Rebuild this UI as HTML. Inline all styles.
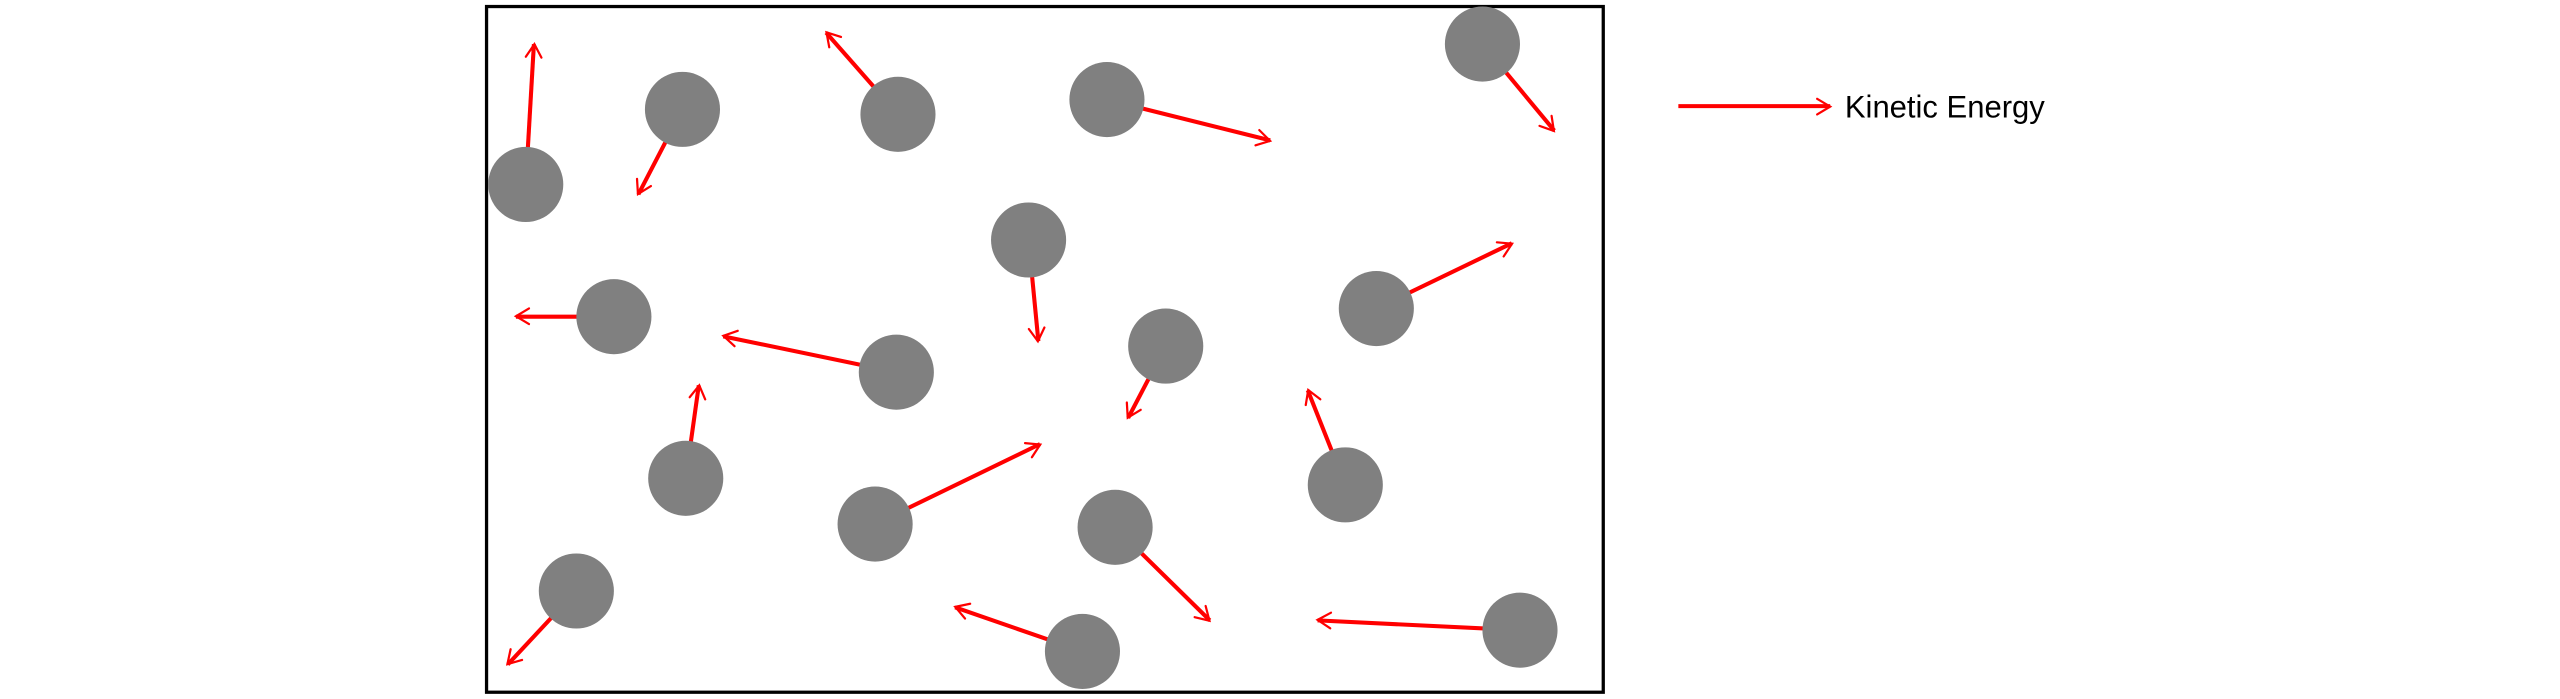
<!DOCTYPE html>
<html><head><meta charset="utf-8"><style>
html,body{margin:0;padding:0;background:#fff;}
svg{display:block;}
</style></head><body>
<svg width="2560" height="699" viewBox="0 0 1568 428.15" xmlns="http://www.w3.org/2000/svg">
<defs>
<marker id="ah" viewBox="0 0 12 12" refX="10" refY="6" markerWidth="6" markerHeight="6" markerUnits="userSpaceOnUse" orient="auto" overflow="visible">
<path d="M0,0 L10,6 L0,12" fill="none" stroke="#ff0000" stroke-width="1.7" stroke-linecap="round" stroke-linejoin="miter" transform="translate(-6,-3) scale(1.6)"/>
</marker>
</defs>
<rect x="298" y="4" width="684" height="420" fill="#fff" stroke="#000" stroke-width="2"/>
<g stroke="#ff0000" stroke-width="2.5" fill="none" marker-end="url(#ah)">
<line x1="322" y1="113" x2="327" y2="27"/>
<line x1="418" y1="67" x2="391" y2="119"/>
<line x1="550" y1="70" x2="506" y2="20"/>
<line x1="678" y1="61" x2="778" y2="86"/>
<line x1="908" y1="27" x2="952" y2="80"/>
<line x1="630" y1="147" x2="636" y2="209"/>
<line x1="376" y1="194" x2="316" y2="194"/>
<line x1="549" y1="228" x2="443" y2="206"/>
<line x1="843" y1="189" x2="926" y2="149"/>
<line x1="714" y1="212" x2="691" y2="256"/>
<line x1="420" y1="293" x2="428" y2="236"/>
<line x1="536" y1="321" x2="637" y2="272"/>
<line x1="824" y1="297" x2="801" y2="239"/>
<line x1="683" y1="323" x2="741" y2="380"/>
<line x1="353" y1="362" x2="311" y2="407"/>
<line x1="663" y1="399" x2="585" y2="372"/>
<line x1="931" y1="386" x2="807" y2="380"/>
<line x1="1028" y1="65" x2="1121" y2="65"/>
</g>
<g fill="#808080">
<circle cx="322" cy="113" r="23"/>
<circle cx="418" cy="67" r="23"/>
<circle cx="550" cy="70" r="23"/>
<circle cx="678" cy="61" r="23"/>
<circle cx="908" cy="27" r="23"/>
<circle cx="630" cy="147" r="23"/>
<circle cx="376" cy="194" r="23"/>
<circle cx="549" cy="228" r="23"/>
<circle cx="843" cy="189" r="23"/>
<circle cx="714" cy="212" r="23"/>
<circle cx="420" cy="293" r="23"/>
<circle cx="536" cy="321" r="23"/>
<circle cx="824" cy="297" r="23"/>
<circle cx="683" cy="323" r="23"/>
<circle cx="353" cy="362" r="23"/>
<circle cx="663" cy="399" r="23"/>
<circle cx="931" cy="386" r="23"/>
</g>
<text x="1130" y="72" font-family="'Liberation Sans', sans-serif" font-size="19" fill="#000">Kinetic Energy</text>
</svg>
</body></html>
